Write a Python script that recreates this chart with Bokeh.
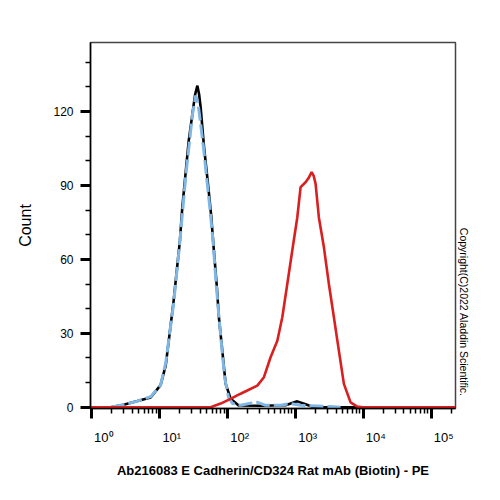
import math
from bokeh.plotting import figure
from bokeh.models import Range1d, FixedTicker, Title
from bokeh.embed import file_html
from bokeh.resources import INLINE

# PE intensity (x) and event count (y) for each histogram
black_x = [1, 1.94, 3.0, 4.8, 7.5, 10.5, 12.5, 16.3, 20.2, 21.9, 24.5, 27.2, 31.8, 33.9, 36.5,
           38.7, 40.8, 45.6, 51.7, 58.2, 63.3, 70.1, 75.7, 84.9, 95, 112.6, 147.5, 311, 724,
           1077, 1427, 1870, 229000]
black_y = [0, 0, 1, 2.5, 4, 9, 17, 43, 67.6, 81, 95, 108, 121.7, 127, 130.5,
           127, 121.7, 106, 92, 78, 65, 50, 36.5, 23, 9.6, 3.5, 0.7, 0.6, 0.8,
           2.4, 1.2, 0, 0]

blue_x = [1.94, 3.0, 4.8, 7.5, 10.5, 12.5, 16.3, 20.0, 22.2, 24.9, 28.0, 31.0, 34.5, 37.5,
          40.8, 45.1, 50.0, 56.2, 62.2, 67.7, 75, 83, 91.9, 105, 120.5, 158, 222, 281, 368,
          612, 859, 1205, 3327, 4667]
blue_y = [0, 1, 2.5, 4.3, 9, 18, 42, 66, 80, 95, 108, 119, 126.5, 123,
          115, 105, 93, 80, 67, 53, 38, 25, 12, 4, 1.5, 0.8, 1.6, 2, 0.8,
          0.8, 1.5, 0.8, 0.3, 0]

red_x = [1, 57.2, 80.2, 112.4, 158, 198, 278, 348, 436, 548, 648, 768, 909, 1077, 1205,
         1427, 1580, 1750, 1873, 2002, 2238, 2652, 3142, 3722, 4406, 5222, 6550, 8222,
         9840, 229000]
red_y = [0, 0, 1.5, 3.4, 5.5, 6.8, 8.8, 12.2, 20.3, 27, 36.5, 50, 63.6, 77, 89.3,
         91.3, 93, 95.4, 94, 90.7, 77, 65, 50, 36.5, 23, 9.5, 2, 0.3,
         0, 0]

# axis ticks
x_major = [1, 10, 100, 1000, 10000, 100000]
x_minor = [m * 10 ** d for d in range(0, 6) for m in range(2, 10)]
y_major = [0, 30, 60, 90, 120]
y_minor = [10, 20, 40, 50, 70, 80, 100, 110, 130, 140]

FONT = "Liberation Sans"
SUP = str.maketrans("0123456789", "⁰¹²³⁴⁵⁶⁷⁸⁹")

p = figure(width=500, height=500, x_axis_type="log", output_backend="svg",
           toolbar_location=None,
           x_range=Range1d(10 ** -0.01, 10 ** 5.36), y_range=Range1d(-0.5, 148),
           min_border_left=90, min_border_right=45, min_border_top=42, min_border_bottom=92)
p.background_fill_color = "white"
p.border_fill_color = "white"
p.grid.visible = False
p.outline_line_color = "#444444"
p.outline_line_width = 1.5

p.line(black_x, black_y, line_color="black", line_width=2.6)
p.line(blue_x, blue_y, line_color="#7fb6e3", line_width=3, line_dash="14 4")
p.line(red_x, red_y, line_color="#d91f1f", line_width=2.6)

# x axis: decade ticks labelled 10^n, set just right of each tick
xa = p.xaxis[0]
xa.ticker = FixedTicker(ticks=x_major, minor_ticks=x_minor)
xa.major_label_overrides = {
    t: "\u00a0" * 7 + "10" + str(int(round(math.log10(t)))).translate(SUP) for t in x_major
}
xa.major_label_text_font = FONT
xa.major_label_text_font_size = "13px"
xa.major_label_text_color = "black"
xa.major_label_standoff = 11
xa.axis_line_color = "black"
xa.axis_line_width = 1.5
xa.major_tick_out = 10
xa.major_tick_in = 0
xa.major_tick_line_width = 3
xa.minor_tick_out = 5
xa.minor_tick_in = 0
xa.minor_tick_line_width = 1.5
xa.axis_label = "Ab216083 E Cadherin/CD324 Rat mAb (Biotin) - PE"
xa.axis_label_text_font = FONT
xa.axis_label_text_font_style = "bold"
xa.axis_label_text_font_size = "13px"
xa.axis_label_text_color = "black"
xa.axis_label_standoff = 15

ya = p.yaxis[0]
ya.ticker = FixedTicker(ticks=y_major, minor_ticks=y_minor)
ya.axis_line_color = "black"
ya.axis_line_width = 1.5
ya.major_tick_out = 10
ya.major_tick_in = 0
ya.major_tick_line_width = 3
ya.minor_tick_out = 5
ya.minor_tick_in = 0
ya.minor_tick_line_width = 1.5
ya.major_label_text_font = FONT
ya.major_label_text_font_size = "12px"
ya.major_label_text_color = "black"
ya.major_label_standoff = 7
ya.axis_label = "Count"
ya.axis_label_text_font = FONT
ya.axis_label_text_font_style = "normal"
ya.axis_label_text_font_size = "16px"
ya.axis_label_text_color = "black"
ya.axis_label_standoff = 16

p.add_layout(Title(text="Copyright(C)2022 Aladdin Scientific.", align="right",
                   offset=12, standoff=5,
                   text_font=FONT, text_font_size="10.5px", text_font_style="normal",
                   text_color="black"), "right")

open("out.html", "w").write(file_html(p, INLINE))
